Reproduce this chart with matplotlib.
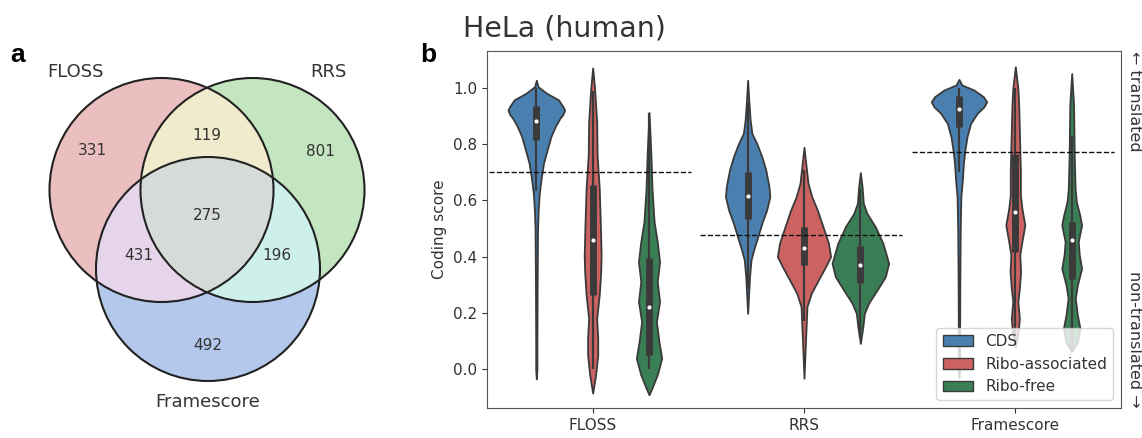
import numpy as np
import matplotlib.pyplot as plt
from matplotlib.patches import Circle, Polygon, Patch

# panel a: overlap of the three methods
venn_sets = ["FLOSS", "RRS", "Framescore"]
venn_regions = ["100", "010", "001", "110", "101", "011", "111"]
venn_counts = [331, 801, 492, 119, 431, 196, 275]
venn_colors = ["#ebbfc0", "#c3e6c0", "#b3c8ea", "#f1ebcd", "#e6d4eb", "#cdf0eb", "#d7dbd7"]

# panel b: coding score distributions
methods = ["FLOSS", "RRS", "Framescore"]
groups = ["CDS", "Ribo-associated", "Ribo-free"]
group_colors = ["#4a80b0", "#cd6262", "#3a7e55"]
thresholds = [0.700, 0.477, 0.772]

# violin outlines: score levels and half-widths
floss_cds_y = [1.028, 1.005, 0.981, 0.958, 0.934, 0.922, 0.905, 0.893, 0.862, 0.827, 0.779,
               0.732, 0.684, 0.625, 0.566, 0.50, 0.30, 0.10, 0.0, -0.035]
floss_cds_w = [0, 0.008, 0.05, 0.105, 0.126, 0.134, 0.125, 0.112, 0.089, 0.069, 0.051,
               0.034, 0.024, 0.014, 0.009, 0.006, 0.004, 0.003, 0.003, 0]
floss_ra_y = [1.072, 1.0, 0.88, 0.762, 0.644, 0.524, 0.406, 0.346, 0.263, 0.18, 0.109, 0.05,
              -0.021, -0.086]
floss_ra_w = [0, 0.009, 0.019, 0.021, 0.031, 0.036, 0.040, 0.038, 0.031, 0.019, 0.024, 0.024,
              0.014, 0]
floss_rf_y = [0.913, 0.762, 0.644, 0.524, 0.453, 0.382, 0.311, 0.24, 0.168, 0.097, 0.038,
              -0.021, -0.068, -0.092]
floss_rf_w = [0, 0.009, 0.014, 0.024, 0.039, 0.050, 0.039, 0.050, 0.035, 0.047, 0.060,
              0.039, 0.014, 0]
rrs_cds_y = [1.028, 0.95, 0.886, 0.839, 0.803, 0.756, 0.708, 0.649, 0.613, 0.566, 0.518,
             0.471, 0.423, 0.388, 0.328, 0.198]
rrs_cds_w = [0, 0.006, 0.012, 0.02, 0.043, 0.067, 0.086, 0.101, 0.105, 0.09, 0.067,
             0.048, 0.028, 0.016, 0.009, 0]
rrs_ra_y = [0.789, 0.708, 0.661, 0.613, 0.566, 0.506, 0.447, 0.40, 0.364, 0.317, 0.269,
            0.222, 0.115, -0.033]
rrs_ra_w = [0, 0.012, 0.019, 0.037, 0.063, 0.09, 0.116, 0.126, 0.102, 0.068, 0.034,
            0.014, 0.008, 0]
rrs_rf_y = [0.699, 0.65, 0.59, 0.554, 0.506, 0.447, 0.376, 0.328, 0.281, 0.234, 0.198,
            0.151, 0.091]
rrs_rf_w = [0, 0.008, 0.014, 0.031, 0.071, 0.107, 0.134, 0.118, 0.079, 0.039, 0.019,
            0.012, 0]
fs_cds_y = [1.031, 1.011, 0.993, 0.969, 0.951, 0.933, 0.91, 0.874, 0.827, 0.779, 0.732,
            0.673, 0.613, 0.5, 0.3, 0.1, 0.0, -0.03]
fs_cds_w = [0, 0.014, 0.071, 0.116, 0.131, 0.118, 0.086, 0.055, 0.038, 0.028, 0.021,
            0.016, 0.009, 0.006, 0.004, 0.003, 0.003, 0]
fs_ra_y = [1.076, 0.999, 0.94, 0.82, 0.702, 0.619, 0.572, 0.512, 0.453, 0.406, 0.346,
           0.287, 0.24, 0.18, 0.133, 0.079]
fs_ra_w = [0, 0.012, 0.016, 0.02, 0.024, 0.024, 0.031, 0.045, 0.031, 0.021, 0.025,
           0.019, 0.012, 0.019, 0.014, 0]
fs_rf_y = [1.052, 0.94, 0.762, 0.643, 0.595, 0.548, 0.512, 0.453, 0.406, 0.358, 0.299,
           0.252, 0.192, 0.145, 0.097, 0.062]
fs_rf_w = [0, 0.009, 0.012, 0.016, 0.022, 0.038, 0.047, 0.031, 0.036, 0.047, 0.027,
           0.017, 0.027, 0.039, 0.028, 0]

# inner boxes: whisker low, q1, median, q3, whisker high
floss_box = [[0.635, 0.815, 0.884, 0.936, 1.0],
             [0.0, 0.263, 0.458, 0.655, 0.99],
             [0.0, 0.05, 0.222, 0.395, 0.91]]
rrs_box = [[0.285, 0.534, 0.616, 0.70, 0.95],
           [0.17, 0.37, 0.432, 0.506, 0.71],
           [0.11, 0.307, 0.37, 0.438, 0.64]]
fs_box = [[0.70, 0.86, 0.925, 0.971, 1.0],
          [0.08, 0.417, 0.56, 0.767, 1.0],
          [0.07, 0.322, 0.459, 0.524, 0.83]]

outlines = {
    "FLOSS": [(floss_cds_y, floss_cds_w), (floss_ra_y, floss_ra_w), (floss_rf_y, floss_rf_w)],
    "RRS": [(rrs_cds_y, rrs_cds_w), (rrs_ra_y, rrs_ra_w), (rrs_rf_y, rrs_rf_w)],
    "Framescore": [(fs_cds_y, fs_cds_w), (fs_ra_y, fs_ra_w), (fs_rf_y, fs_rf_w)],
}
boxes = {"FLOSS": floss_box, "RRS": rrs_box, "Framescore": fs_box}

txt = "#333333"
edge = "#3a3a3a"
plt.rcParams["text.color"] = txt
plt.rcParams["axes.labelcolor"] = txt
plt.rcParams["xtick.color"] = txt
plt.rcParams["ytick.color"] = txt

fig = plt.figure(figsize=(11.42, 4.38), dpi=100)

# ---------------- panel a ----------------
axv = fig.add_axes([0, 0, 400 / 1142, 1])
axv.set_xlim(0, 400)
axv.set_ylim(438, 0)
axv.axis("off")

# circle layout (pixel units of this axes)
centers = [(161.5, 190.0), (252.5, 190.0), (208.0, 269.0)]
radius = 112.0


def disc_intersection(idx):
    t = np.linspace(0, 2 * np.pi, 1441)
    pts = []
    for i in idx:
        cx, cy = centers[i]
        bx = cx + radius * np.cos(t)
        by = cy + radius * np.sin(t)
        keep = np.ones_like(t, dtype=bool)
        for k in idx:
            if k != i:
                ox, oy = centers[k]
                keep &= np.hypot(bx - ox, by - oy) <= radius + 1e-6
        pts.append(np.column_stack([bx[keep], by[keep]]))
    pts = np.vstack(pts)
    c = pts.mean(axis=0)
    order = np.argsort(np.arctan2(pts[:, 1] - c[1], pts[:, 0] - c[0]))
    return pts[order]


# single regions first, then overlaps on top
for key, col in zip(venn_regions, venn_colors):
    idx = [i for i, ch in enumerate(key) if ch == "1"]
    if len(idx) == 1:
        axv.add_patch(Circle(centers[idx[0]], radius, facecolor=col, edgecolor="none"))
for n in (2, 3):
    for key, col in zip(venn_regions, venn_colors):
        idx = [i for i, ch in enumerate(key) if ch == "1"]
        if len(idx) == n:
            axv.add_patch(Polygon(disc_intersection(idx), closed=True, facecolor=col,
                                  edgecolor="none"))
for c in centers:
    axv.add_patch(Circle(c, radius, facecolor="none", edgecolor="#222222", lw=1.5))

count_pos = {"100": (92.7, 150.7), "010": (320.0, 151.0), "001": (207.3, 346.0),
             "110": (206.7, 136.0), "101": (138.3, 256.0), "011": (276.7, 256.0),
             "111": (207.3, 216.0)}
for key, n in zip(venn_regions, venn_counts):
    axv.text(*count_pos[key], str(n), ha="center", va="center", fontsize=11)

set_pos = [(75.5, 71.7), (328.0, 72.0), (208.0, 401.7)]
for name, (x, y) in zip(venn_sets, set_pos):
    axv.text(x, y, name, ha="center", va="center", fontsize=13)

fig.text(10 / 1142, 1 - 62 / 438, "a", fontsize=19, fontweight="bold",
         family="Liberation Sans", color="black", va="baseline")

# ---------------- panel b ----------------
ax = fig.add_axes([487 / 1142, 1 - 408 / 438, 634 / 1142, 357 / 438])
offsets = np.linspace(-0.8 / 3, 0.8 / 3, 3)
for i, m in enumerate(methods):
    for j in range(len(groups)):
        x = i + offsets[j]
        yv, wv = outlines[m][j]
        yv = np.asarray(yv)
        wv = np.asarray(wv)
        ax.fill_betweenx(yv, x - wv, x + wv, facecolor=group_colors[j], edgecolor=edge,
                         lw=1.3, zorder=1)
        lo, q1, med, q3, hi = boxes[m][j]
        ax.vlines(x, lo, hi, color=edge, lw=1.6, zorder=2)
        ax.vlines(x, q1, q3, color=edge, lw=5, zorder=2)
        ax.scatter([x], [med], s=9, color="white", lw=0, zorder=3)
    ax.hlines(thresholds[i], i - 0.49, i + 0.465, colors="#111111", linestyles="--",
              lw=1.0, zorder=4)

ax.set_xlim(-0.5, 2.5)
ax.set_ylim(-0.139, 1.132)
ax.set_xticks(range(len(methods)))
ax.set_xticklabels(methods, fontsize=11)
ax.set_yticks(np.arange(0, 1.01, 0.2))
ax.set_yticklabels([f"{v:.1f}" for v in np.arange(0, 1.01, 0.2)], fontsize=11)
ax.set_ylabel("Coding score", fontsize=11)
for s in ax.spines.values():
    s.set_color("#555555")

handles = [Patch(facecolor=c, edgecolor=edge, lw=1.0) for c in group_colors]
ax.legend(handles, groups, loc="lower right", fontsize=11, framealpha=0.8)

ax.text(1.009, 1.0, "\u2190 translated", transform=ax.transAxes, rotation=-90,
        va="top", ha="left", fontsize=11.5)
ax.text(1.009, 0.0, "non-translated \u2192", transform=ax.transAxes, rotation=-90,
        va="bottom", ha="left", fontsize=11.5)

fig.text(463 / 1142, 1 - 37 / 438, "HeLa (human)", fontsize=20.5, va="baseline")
fig.text(420 / 1142, 1 - 62 / 438, "b", fontsize=19, fontweight="bold",
         family="Liberation Sans", color="black", va="baseline")

fig.savefig("out.png", dpi=100)
